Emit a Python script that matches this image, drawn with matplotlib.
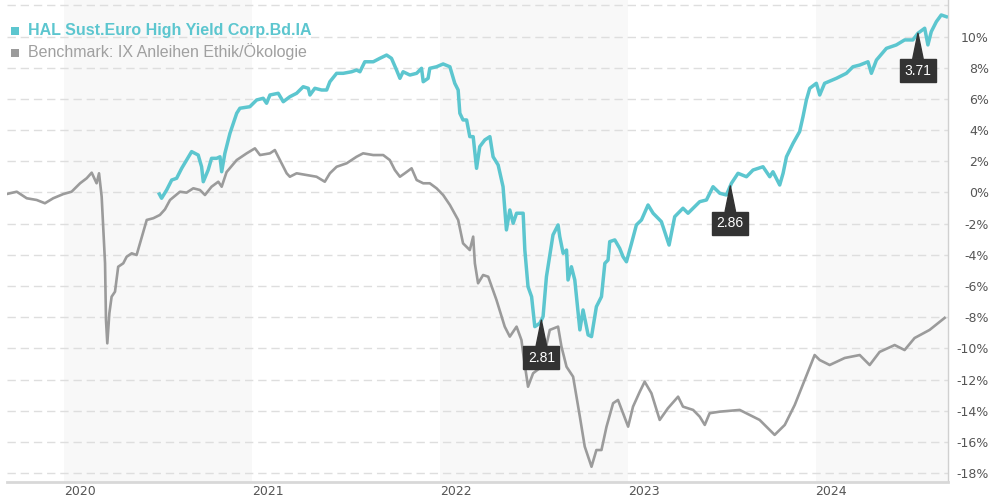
import numpy as np
import matplotlib
matplotlib.use("Agg")
import matplotlib.pyplot as plt
from matplotlib.patches import Rectangle
import matplotlib.transforms as mtransforms

# ---- data (x = decimal year, y = performance in %) ----
bench_year = [2019.693, 2019.747, 2019.800, 2019.853, 2019.897, 2019.941, 2019.995, 2020.039,
              2020.084, 2020.119, 2020.146, 2020.172, 2020.185, 2020.199, 2020.217, 2020.222,
              2020.229, 2020.240, 2020.252, 2020.270, 2020.287, 2020.314, 2020.332, 2020.359,
              2020.385, 2020.403, 2020.439, 2020.474, 2020.509, 2020.536, 2020.563, 2020.616,
              2020.651, 2020.687, 2020.722, 2020.749, 2020.784, 2020.820, 2020.838, 2020.864,
              2020.918, 2020.971, 2021.015, 2021.042, 2021.095, 2021.121, 2021.157, 2021.184,
              2021.201, 2021.237, 2021.290, 2021.343, 2021.387, 2021.414, 2021.450, 2021.503,
              2021.556, 2021.591, 2021.645, 2021.698, 2021.733, 2021.760, 2021.787, 2021.813,
              2021.849, 2021.876, 2021.911, 2021.946, 2021.982, 2022.017, 2022.053, 2022.097,
              2022.123, 2022.159, 2022.177, 2022.186, 2022.203, 2022.230, 2022.257, 2022.301,
              2022.345, 2022.372, 2022.408, 2022.434, 2022.443, 2022.469, 2022.496, 2022.541,
              2022.585, 2022.629, 2022.647, 2022.674, 2022.709, 2022.745, 2022.771, 2022.807,
              2022.833, 2022.860, 2022.887, 2022.922, 2022.948, 2022.975, 2023.002, 2023.028,
              2023.064, 2023.090, 2023.126, 2023.170, 2023.214, 2023.268, 2023.294, 2023.348,
              2023.383, 2023.410, 2023.436, 2023.490, 2023.596, 2023.702, 2023.782, 2023.836,
              2023.889, 2023.942, 2023.995, 2024.022, 2024.075, 2024.155, 2024.235, 2024.288,
              2024.341, 2024.421, 2024.474, 2024.527, 2024.607, 2024.687]
bench_pct = [-0.10, 0.05, -0.37, -0.48, -0.69, -0.37, -0.10, 0.05,
             0.59, 0.91, 1.27, 0.59, 1.23, -0.27, -4.54, -8.17,
             -9.67, -7.74, -6.68, -6.36, -4.76, -4.54, -4.12, -3.90,
             -4.01, -3.26, -1.76, -1.65, -1.44, -1.08, -0.48, 0.05,
             -0.01, 0.27, 0.16, -0.16, 0.37, 0.69, 0.37, 1.31,
             2.08, 2.51, 2.83, 2.40, 2.51, 2.72, 1.87, 1.23,
             1.01, 1.23, 1.12, 1.01, 0.69, 1.23, 1.65, 1.87,
             2.29, 2.51, 2.40, 2.40, 2.08, 1.44, 1.01, 1.23,
             1.55, 0.80, 0.59, 0.59, 0.27, -0.16, -0.80, -1.76,
             -3.26, -3.69, -2.83, -4.54, -5.82, -5.29, -5.40, -6.89,
             -8.60, -9.24, -8.60, -9.46, -10.31, -12.45, -11.59, -11.17,
             -8.81, -8.60, -9.88, -11.17, -11.81, -14.37, -16.29, -17.58,
             -16.51, -16.51, -15.01, -13.51, -13.30, -14.15, -15.01, -13.73,
             -12.77, -12.13, -12.87, -14.58, -13.83, -13.09, -13.73, -13.94,
             -14.37, -14.90, -14.15, -14.05, -13.94, -14.58, -15.54, -14.90,
             -13.62, -12.02, -10.42, -10.74, -11.06, -10.61, -10.42, -11.06,
             -10.22, -9.78, -10.10, -9.33, -8.81, -8.04]

fund_year = [2020.506, 2020.518, 2020.545, 2020.572, 2020.598, 2020.625, 2020.651, 2020.678,
             2020.713, 2020.731, 2020.740, 2020.766, 2020.784, 2020.811, 2020.829, 2020.838,
             2020.855, 2020.882, 2020.918, 2020.935, 2020.988, 2021.024, 2021.059, 2021.077,
             2021.095, 2021.139, 2021.166, 2021.201, 2021.237, 2021.272, 2021.299, 2021.308,
             2021.334, 2021.370, 2021.397, 2021.414, 2021.450, 2021.485, 2021.530, 2021.556,
             2021.574, 2021.600, 2021.645, 2021.680, 2021.716, 2021.742, 2021.769, 2021.787,
             2021.804, 2021.840, 2021.876, 2021.902, 2021.911, 2021.937, 2021.946, 2021.982,
             2022.017, 2022.053, 2022.079, 2022.097, 2022.106, 2022.123, 2022.142, 2022.159,
             2022.177, 2022.195, 2022.212, 2022.239, 2022.266, 2022.283, 2022.310, 2022.336,
             2022.354, 2022.372, 2022.390, 2022.408, 2022.443, 2022.452, 2022.469, 2022.488,
             2022.505, 2022.532, 2022.549, 2022.567, 2022.602, 2022.629, 2022.638, 2022.656,
             2022.674, 2022.682, 2022.700, 2022.718, 2022.745, 2022.762, 2022.789, 2022.807,
             2022.833, 2022.860, 2022.878, 2022.895, 2022.904, 2022.931, 2022.957, 2022.975,
             2022.993, 2023.020, 2023.046, 2023.073, 2023.108, 2023.135, 2023.179, 2023.220,
             2023.250, 2023.294, 2023.321, 2023.383, 2023.419, 2023.454, 2023.490, 2023.525,
             2023.552, 2023.587, 2023.632, 2023.667, 2023.720, 2023.756, 2023.773, 2023.809,
             2023.827, 2023.845, 2023.880, 2023.915, 2023.933, 2023.951, 2023.969, 2024.004,
             2024.022, 2024.048, 2024.111, 2024.164, 2024.199, 2024.235, 2024.279, 2024.297,
             2024.324, 2024.377, 2024.430, 2024.474, 2024.518, 2024.545, 2024.581, 2024.598,
             2024.616, 2024.643, 2024.669, 2024.696]
fund_pct = [-0.10, -0.37, 0.16, 0.80, 0.91, 1.55, 2.08, 2.62,
            2.40, 1.65, 0.69, 1.44, 2.19, 2.19, 2.29, 1.33,
            2.51, 3.79, 5.08, 5.40, 5.50, 5.93, 6.04, 5.72,
            6.25, 6.36, 5.82, 6.14, 6.36, 6.78, 6.68, 6.25,
            6.68, 6.57, 6.57, 7.10, 7.64, 7.64, 7.74, 7.85,
            7.74, 8.38, 8.38, 8.60, 8.81, 8.60, 7.85, 7.32,
            7.74, 7.53, 7.64, 7.96, 7.10, 7.32, 7.96, 8.06,
            8.24, 8.06, 7.00, 6.57, 5.08, 4.65, 4.65, 3.58,
            3.58, 1.55, 2.94, 3.37, 3.58, 2.29, 1.76, 0.37,
            -2.40, -1.12, -1.97, -1.33, -1.33, -3.69, -6.04, -6.68,
            -8.60, -8.38, -7.96, -5.40, -2.72, -2.08, -2.83, -3.90,
            -3.69, -5.61, -4.76, -5.61, -8.81, -7.53, -9.13, -9.24,
            -7.32, -6.68, -4.54, -4.33, -3.15, -3.04, -3.58, -4.12,
            -4.44, -3.26, -2.08, -1.76, -0.80, -1.33, -1.87, -3.37,
            -1.55, -1.01, -1.33, -0.59, -0.48, 0.37, -0.05, -0.16,
            0.59, 1.23, 1.01, 1.44, 1.65, 1.01, 1.33, 0.48,
            1.23, 2.29, 3.15, 3.90, 4.86, 5.93, 6.68, 7.00,
            6.25, 7.00, 7.32, 7.64, 8.06, 8.17, 8.38, 7.64,
            8.49, 9.24, 9.46, 9.78, 9.78, 10.21, 10.53, 9.46,
            10.31, 10.95, 11.38, 11.27]

dividend_year = [2022.540, 2023.546, 2024.545]
dividend_labels = ["2.81", "2.86", "3.71"]

fund_name = "HAL Sust.Euro High Yield Corp.Bd.IA"
bench_name = "Benchmark: IX Anleihen Ethik/Ökologie"
year_ticks = [2020, 2021, 2022, 2023, 2024]
pct_ticks = list(range(-18, 11, 2))

# ---- style ----
TEAL = "#5cc6cf"
GRAY = "#9b9b9b"
BAND = "#f8f8f8"

fig = plt.figure(figsize=(9.9, 5.0), dpi=100)
ax = fig.add_axes([7 / 990, 18 / 500, (948 - 7) / 990, 482 / 500])

x0, x1 = 2019.695, 2024.705
ax.set_xlim(x0, x1)
ax.set_ylim(-18.56, 12.34)

# alternating year bands
for start in [2020, 2022, 2024]:
    ax.axvspan(start, min(start + 1, x1), color=BAND, lw=0, zorder=0)

# horizontal dashed grid
for v in range(-18, 13, 2):
    ax.axhline(v, color="#dedede", lw=1.0, dashes=(6, 3.5), zorder=1)

ax.plot(bench_year, bench_pct, color=GRAY, lw=1.9, zorder=3, solid_joinstyle="round")
ax.plot(fund_year, fund_pct, color=TEAL, lw=2.5, zorder=4, solid_joinstyle="round")

# dividend markers
for dy, lab in zip(dividend_year, dividend_labels):
    yv = float(np.interp(dy, fund_year, fund_pct))
    ax.annotate(lab, xy=(dy, yv), xytext=(0, -27), textcoords="offset points",
                ha="center", va="center", color="white", fontsize=10,
                family="Liberation Sans", zorder=6,
                bbox=dict(boxstyle="square,pad=0.32", fc="#333333", ec="#333333"),
                arrowprops=dict(arrowstyle="wedge,tail_width=0.75,shrink_factor=0.5",
                                fc="#333333", ec="#333333", mutation_scale=10,
                                shrinkA=0, shrinkB=0))

# spines
for s in ["top", "left"]:
    ax.spines[s].set_visible(False)
ax.spines["right"].set_color("#d0d0d0")
ax.spines["right"].set_linewidth(1.0)
ax.spines["bottom"].set_color("#d8d8d8")
ax.spines["bottom"].set_linewidth(2.0)

# ticks
ax.set_xticks(year_ticks)
ax.set_xticklabels([str(y) for y in year_ticks], fontsize=9, color="#555555",
                   family="DejaVu Sans", ha="left")
offset = mtransforms.ScaledTranslation(3 / 100, 0, fig.dpi_scale_trans)
for lbl in ax.get_xticklabels():
    lbl.set_transform(lbl.get_transform() + offset)
ax.tick_params(axis="x", length=0, pad=2)

ax.yaxis.tick_right()
ax.set_yticks(pct_ticks)
ax.set_yticklabels([f"{v}%" for v in pct_ticks], fontsize=9, color="#555555",
                   family="DejaVu Sans", ha="right")
ax.tick_params(axis="y", length=0, pad=29.5)

# legend
fig.patches.append(Rectangle((11 / 990, 1 - 35 / 500), 8 / 990, 8 / 500,
                             transform=fig.transFigure, fc=TEAL, ec="none"))
fig.patches.append(Rectangle((11 / 990, 1 - 57 / 500), 8 / 990, 8 / 500,
                             transform=fig.transFigure, fc=GRAY, ec="none"))
fig.text(28 / 990, 1 - 30 / 500, fund_name, color=TEAL, fontsize=11.5, fontweight="bold",
         family="Liberation Sans", va="center", ha="left")
fig.text(28 / 990, 1 - 52 / 500, bench_name, color="#a0a0a0", fontsize=11.5,
         family="Liberation Sans", va="center", ha="left")

fig.savefig("out.png", dpi=100, facecolor="white")
